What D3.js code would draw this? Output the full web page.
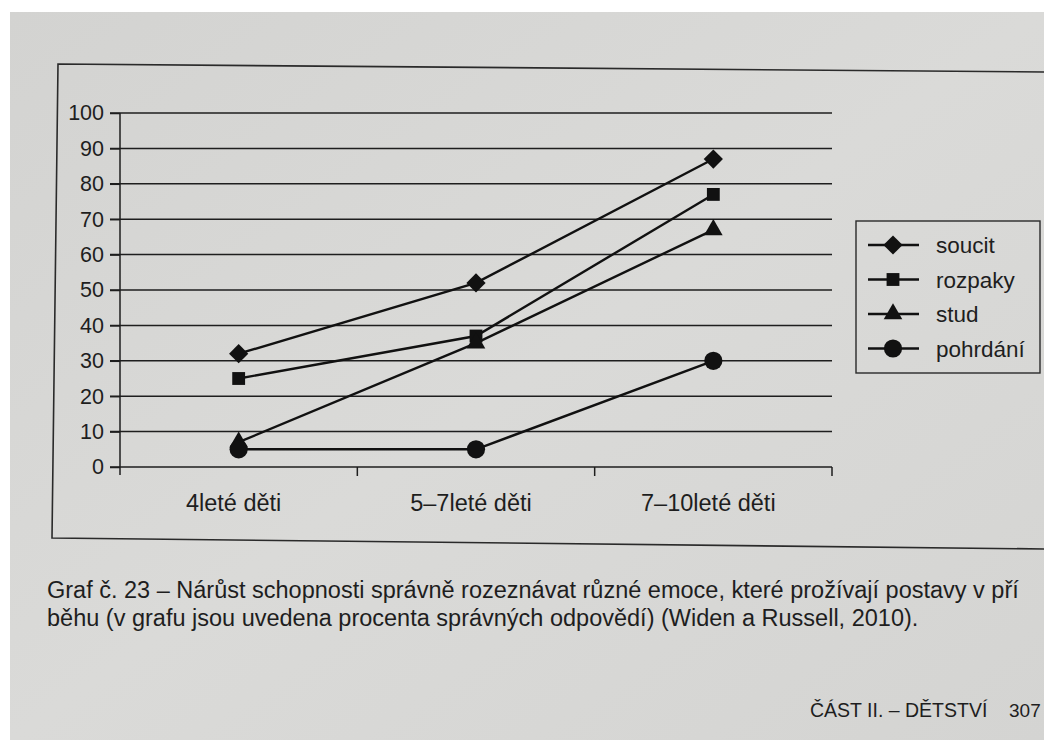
<!DOCTYPE html>
<html>
<head>
<meta charset="utf-8">
<script src="https://cdn.jsdelivr.net/npm/d3@7"></script>
<style>
  body { margin: 0; background: #fff; }
  svg text { font-family: "Liberation Sans", Arial, sans-serif; fill: #1e1e1e; }
</style>
</head>
<body>
<div id="chart"></div>
<script>
// data (percent of correct answers)
const categories = ['4leté děti', '5–7leté děti', '7–10leté děti']
const seriesNames = ['soucit', 'rozpaky', 'stud', 'pohrdání']
const soucit = [32, 52, 87]
const rozpaky = [25, 37, 77]
const stud = [7, 35, 67]
const pohrdani = [5, 5, 30]
const yTicks = [0, 10, 20, 30, 40, 50, 60, 70, 80, 90, 100]
const captionLines = [
  'Graf č. 23 – Nárůst schopnosti správně rozeznávat různé emoce, které prožívají postavy v pří',
  'běhu (v grafu jsou uvedena procenta správných odpovědí) (Widen a Russell, 2010).'
]
const footer = 'ČÁST II. – DĚTSTVÍ'
const pageNo = '307'

// square turned by 45deg, like the spreadsheet diamond marker
const rotDiamond = {
  draw(ctx, size) {
    const r = Math.sqrt(size / 2)
    ctx.moveTo(0, -r); ctx.lineTo(r, 0); ctx.lineTo(0, r); ctx.lineTo(-r, 0); ctx.closePath()
  }
}

const series = [
  {name: seriesNames[0], values: soucit, symbol: rotDiamond, size: 185},
  {name: seriesNames[1], values: rozpaky, symbol: d3.symbolSquare, size: 165},
  {name: seriesNames[2], values: stud, symbol: d3.symbolTriangle, size: 150},
  {name: seriesNames[3], values: pohrdani, symbol: d3.symbolCircle, size: 260}
]

const W = 1044, H = 740
const svg = d3.select('#chart').append('svg')
  .attr('width', W).attr('height', H)
  .attr('viewBox', [0, 0, W, H])

// page
const grad = svg.append('defs').append('linearGradient')
  .attr('id', 'paper').attr('x1', 0).attr('y1', 0).attr('x2', 1).attr('y2', 1)
grad.append('stop').attr('offset', '0%').attr('stop-color', '#d3d3d1')
grad.append('stop').attr('offset', '50%').attr('stop-color', '#dadad8')
grad.append('stop').attr('offset', '100%').attr('stop-color', '#d4d4d2')
svg.append('rect').attr('x', 10).attr('y', 12).attr('width', W - 10).attr('height', H - 12)
  .attr('fill', 'url(#paper)')

// outer frame of the figure
svg.append('path')
  .attr('d', `M${W + 2},72 L58,64 L52,538 L${W + 2},549`)
  .attr('fill', 'none').attr('stroke', '#2a2a2a').attr('stroke-width', 1.6)

const x = d3.scaleBand().domain(categories).range([120, 832])
const y = d3.scaleLinear().domain([0, 100]).range([467, 113])

// gridlines
svg.append('g')
  .selectAll('line').data(yTicks).join('line')
    .attr('x1', 110).attr('x2', 832)
    .attr('y1', d => y(d)).attr('y2', d => y(d))
    .attr('stroke', '#1e1e1e').attr('stroke-width', 1.5)

// y axis
const yAxis = svg.append('g')
  .attr('transform', 'translate(120,0)')
  .call(d3.axisLeft(y).tickValues(yTicks).tickSize(10).tickPadding(6))
yAxis.select('.domain').remove()
yAxis.append('line').attr('x1', 0).attr('x2', 0).attr('y1', y(100)).attr('y2', y(0) + 8)
  .attr('stroke', '#1e1e1e').attr('stroke-width', 1.5)
yAxis.selectAll('.tick line').attr('stroke', '#1e1e1e').attr('stroke-width', 1.5)
yAxis.selectAll('.tick text')
  .style('font-family', '"Liberation Sans", Arial, sans-serif')
  .attr('font-size', 21.5).attr('fill', '#1e1e1e')

// x axis: ticks between the categories, labels under each band
const xAxis = svg.append('g')
  .attr('transform', `translate(0,${y(0)})`)
xAxis.selectAll('line').data(categories).join('line')
  .attr('x1', d => x(d) + x.bandwidth()).attr('x2', d => x(d) + x.bandwidth())
  .attr('y1', 0).attr('y2', 9)
  .attr('stroke', '#1e1e1e').attr('stroke-width', 1.5)
xAxis.selectAll('text').data(categories).join('text')
  .attr('x', d => x(d) + x.bandwidth() / 2 - 5)
  .attr('y', 44)
  .attr('text-anchor', 'middle')
  .attr('font-size', 23.5)
  .text(d => d)

// series lines and markers
const cx = i => x(categories[i]) + x.bandwidth() / 2
const line = d3.line().x((d, i) => cx(i)).y(d => y(d))

const g = svg.append('g')
g.selectAll('path.series').data(series).join('path')
  .attr('class', 'series')
  .attr('d', d => line(d.values))
  .attr('fill', 'none').attr('stroke', '#111').attr('stroke-width', 2.4)

series.forEach(s => {
  g.selectAll(null).data(s.values).join('path')
    .attr('transform', (d, i) => `translate(${cx(i)},${y(d)})`)
    .attr('d', d3.symbol(s.symbol, s.size))
    .attr('fill', '#111')
})

// legend
const legend = svg.append('g').attr('transform', 'translate(856,221)')
legend.append('rect').attr('width', 184).attr('height', 152)
  .attr('fill', 'none').attr('stroke', '#2a2a2a').attr('stroke-width', 1.4)
const rows = legend.selectAll('g').data(series).join('g')
  .attr('transform', (d, i) => `translate(0,${24 + i * 34.5})`)
rows.append('line').attr('x1', 12).attr('x2', 63)
  .attr('stroke', '#111').attr('stroke-width', 2.4)
rows.append('path').attr('transform', 'translate(37,0)')
  .attr('d', d => d3.symbol(d.symbol, d.size)())
  .attr('fill', '#111')
rows.append('text').attr('x', 80).attr('y', 8)
  .attr('font-size', 22.5).text(d => d.name)

// caption under the figure
svg.selectAll('text.caption').data(captionLines).join('text')
  .attr('class', 'caption')
  .attr('x', 47).attr('y', (d, i) => 598 + i * 28)
  .attr('font-size', 23.5).attr('fill', '#2a2a2a')
  .text(d => d)

svg.append('text').attr('x', 810).attr('y', 717)
  .attr('font-size', 19.5).attr('fill', '#2a2a2a').text(footer)
svg.append('text').attr('x', 1009).attr('y', 717)
  .attr('font-size', 19).attr('fill', '#2a2a2a').text(pageNo)
</script>
</body>
</html>
